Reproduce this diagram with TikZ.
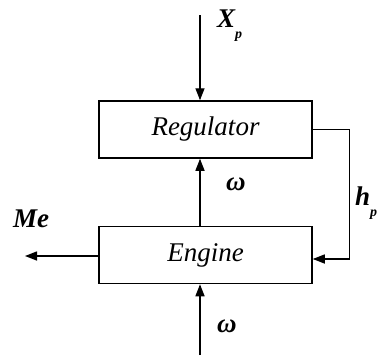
\documentclass[tikz,border=0pt]{standalone}
\usepackage{fontspec}
\setmainfont{Liberation Serif}
\usetikzlibrary{arrows.meta,positioning,calc}

\begin{document}
\begin{tikzpicture}[
  x=1pt, y=-1pt,
  block/.style={draw, line width=1.5pt, minimum width=213pt, minimum height=57pt, inner sep=0pt, font=\fontsize{27}{32}\selectfont\itshape},
  signal/.style={line width=1.4pt, -{Triangle[length=12pt, width=9pt]}},
  lbl/.style={inner sep=0pt, font=\fontsize{27}{32}\selectfont\bfseries\itshape}
]
  \useasboundingbox (0,0) rectangle (378,359);

  % Blocks
  \node[block] (reg) at (205.5,129.5) {Regulator};
  \node[block] (eng) at (205.5,255) {Engine};

  % Free ends
  \coordinate (xin) at (200,15);
  \coordinate (win) at (200,355);
  \coordinate (me) at (25,256);

  % Signals
  \draw[signal] (xin) -- (xin |- reg.north);
  \draw[signal] (win) -- (win |- eng.south);
  \draw[signal] (win |- eng.north) -- (win |- reg.south);
  \draw[signal] (eng.west |- me) -- (me);
  \draw[signal] (reg.east) -- ++(37,0) |- ([yshift=-4pt]eng.east);

  % Labels
  \node[lbl, anchor=base west] (xp) at (217,27) {X\raisebox{-0.42em}{\fontsize{14}{16}\selectfont p}};
  \node[lbl, anchor=base west] (w1) at (226,190) {ω};
  \node[lbl, anchor=base west] (w2) at (217,332) {ω};
  \node[lbl, anchor=base west] (melbl) at (13,227) {Me};
  \node[lbl, anchor=base west] (hp) at (355,205) {h\raisebox{-0.42em}{\fontsize{14}{16}\selectfont p}};
\end{tikzpicture}
\end{document}
